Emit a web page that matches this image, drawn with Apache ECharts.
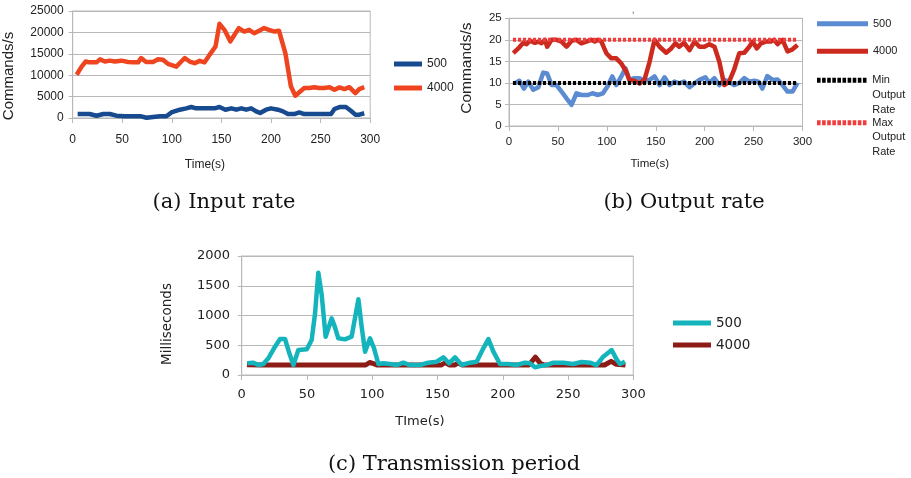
<!DOCTYPE html>
<html>
<head>
<meta charset="utf-8">
<title>Input rate / Output rate / Transmission period</title>
<script src="https://cdn.jsdelivr.net/npm/echarts@6/dist/echarts.min.js"></script>
<style>
html, body { margin: 0; padding: 0; background: #fff; }
#chart { width: 911px; height: 478px; }
</style>
</head>
<body>
<div id="chart"></div>
<script>
// [time (s), value]

// (a) input rate, commands/s
const inRate500 = [[5,930],[17,930],[24,540],[31,930],[37.5,930],[44,540],[52.5,390],[61,390],[69,390],[74.5,50],[81,230],[88,390],[94.5,390],[99.5,1300],[108,1940],[114.5,2250],[119.5,2560],[124.5,2250],[135,2250],[143,2250],[148,2560],[154,1940],[160,2250],[165,1940],[170,2250],[175,1940],[180,2250],[185,1550],[189,1160],[195,1940],[200,2250],[207,1940],[212,1550],[217,930],[223.5,930],[228.5,1300],[233.5,930],[245,930],[260.5,930],[264,2100],[269,2560],[275.5,2560],[280.5,1700],[285,780],[289,780],[294,1100]];
const inRate4000 = [[4,10100],[9,12000],[13,13200],[17,13000],[24,13000],[27.5,13700],[32.5,13200],[37.5,13400],[42.5,13200],[49,13400],[56,13100],[61,13000],[66,13000],[69,14000],[74,13100],[81,13100],[86,13700],[91,13600],[96,12650],[104.5,12000],[109.5,13200],[113,14000],[118,13200],[123,12800],[128,13350],[133,13000],[138,14750],[144,16700],[148,22000],[153,20600],[159,17900],[163,19400],[167.5,21000],[173,20200],[178,20600],[183,19800],[188,20400],[193,21000],[198,20600],[203.5,20200],[208,20400],[210,20200],[214.5,15100],[220,7400],[224.5,5200],[228.5,6000],[233.5,7000],[238.5,7000],[243.5,7200],[248.5,7000],[253.5,7000],[259,7200],[264,6600],[269,7150],[274,6750],[279,7200],[285,5800],[289,6750],[294,7200]];

// (b) output rate, commands/s
const outRate500 = [[6,9.9],[10.5,10.5],[15.3,8.7],[19.7,10.3],[24.8,8.4],[30,9],[35,12.4],[39,12.2],[43.5,9.5],[48.6,9.5],[53.7,8],[58.8,6.4],[63.9,4.9],[69,7.6],[74,7.2],[80.8,7.2],[85.3,7.6],[91,7.2],[96,7.6],[101,9.3],[105.6,11.5],[109.7,9.5],[114.8,11.5],[119,13.4],[123,10.7],[128,11.1],[133.5,11.1],[138.6,10.5],[143.7,10.7],[148.8,11.5],[154,9.5],[159,11.3],[164,9.5],[169,10.3],[174,9.9],[179,10.3],[184.5,9],[189.6,9.9],[194.7,10.7],[200.8,11.3],[204.8,10],[210,11.1],[215,9.5],[220,10.7],[225,10.3],[230,9.5],[235.4,10],[240.5,11.1],[245.6,10.3],[250.7,10.5],[255,10.3],[259,8.7],[264,11.6],[269.4,10.7],[274.5,10.8],[279.6,9.5],[284.7,8],[289.8,8],[294.9,10]];
const outRate4000 = [[4.4,16.9],[9.5,18],[14.6,19.3],[18,19],[21.4,19.8],[26.5,19.3],[30,19.6],[33.3,19.2],[36.7,20],[39,18.4],[43.5,20],[48.6,20],[53.7,19.6],[58.8,18.4],[63.9,19.8],[69,20],[74,19.2],[79,19.6],[84,20],[87.6,19.6],[91,20],[94.4,19.6],[99.5,16.9],[104.6,15.7],[109.7,15.7],[114.8,14.5],[120,12.6],[123,10.7],[128,10.5],[133.5,9.9],[138.6,10.8],[143.7,14.9],[148.8,20],[153.9,18.4],[160.7,17],[165.8,18],[170,19.2],[174,18.4],[179,19.3],[184.5,17.6],[189.6,19.6],[194.7,18.4],[199.7,18.4],[204.8,19],[210,18.4],[215,14.9],[220,9.5],[225,10.3],[230,13],[235.4,16.9],[240.5,17],[245.6,18.4],[249,19.6],[253.4,18],[257.5,19.2],[262.6,19.6],[267.7,19.6],[271,20],[274.5,19],[279.6,20],[284.7,17.3],[289.8,17.8],[294.9,18.8]];
const minOutRate = [[4,10],[295,10]];
const maxOutRate = [[4,20],[295,20]];

// (c) transmission period, ms
const period500 = [[4.3,196],[9,207],[12.8,168],[16.6,185],[20.4,280],[25.5,476],[29.4,605],[33.2,605],[36.5,364],[39.6,168],[43.4,420],[49.8,431],[53.6,588],[56.2,1036],[58.7,1720],[61.3,1344],[64.3,644],[68.9,952],[71.5,801],[74,616],[79.1,599],[84.2,644],[89.4,1272],[91.9,812],[94.5,392],[98.3,616],[101.4,448],[104.7,185],[108.5,196],[113.6,185],[118.7,168],[123.8,207],[128.9,168],[136.6,168],[143,207],[149.4,224],[154.5,297],[158.8,196],[163.4,297],[168.5,168],[174.9,207],[180,224],[185.1,448],[189,605],[192.8,392],[197.9,185],[204.2,185],[210.6,168],[217,207],[220.8,196],[224.7,129],[228.5,151],[233.6,168],[238.7,207],[246.4,207],[254,185],[260.4,218],[266.8,207],[271.9,168],[277,308],[283.4,420],[287.2,263],[289.8,185],[293.6,224]];
const period4000 = [[4,172],[15,168],[95,168],[98,210],[101,190],[104,168],[153,168],[156,210],[159,168],[163,168],[166,200],[169,168],[220,168],[225,300],[229,190],[232,168],[278,168],[283,230],[287,180],[294,168]];

const captions = ['(a) Input rate', '(b) Output rate', '(c) Transmission period'];

const SANS = "'Liberation Sans', Arial, sans-serif";
const WIDE = "'DejaVu Sans', sans-serif";
const SERIF = "'DejaVu Serif', serif";
const LINE_C = '#b8b8b8';
const TXT = '#222';
const plain = v => String(v);

function xAxisFor(gi, font, size, margin, gap, pad, name) {
  return {
    type: 'value', gridIndex: gi, min: 0, max: 300, interval: 50,
    axisLine: { show: true, lineStyle: { color: LINE_C } },
    axisTick: { show: true, length: 5, lineStyle: { color: LINE_C } },
    splitLine: { show: false },
    axisLabel: { margin: margin, color: TXT, fontFamily: font, fontSize: size, formatter: plain },
    name: name, nameLocation: 'middle', nameGap: gap,
    nameTextStyle: { color: TXT, fontFamily: font, fontSize: size, padding: pad }
  };
}
function yAxisFor(gi, max, step, font, size, margin, name, nameFont, nameSize, gap, pad) {
  return {
    type: 'value', gridIndex: gi, min: 0, max: max, interval: step,
    axisLine: { show: true, lineStyle: { color: LINE_C } },
    axisTick: { show: true, length: 4, lineStyle: { color: LINE_C } },
    splitLine: { show: true, lineStyle: { color: LINE_C } },
    axisLabel: { margin: margin, color: TXT, fontFamily: font, fontSize: size, formatter: plain },
    name: name, nameLocation: 'middle', nameGap: gap,
    nameTextStyle: { color: TXT, fontFamily: nameFont, fontSize: nameSize, padding: pad }
  };
}
function line(name, data, xi, color, width, dash, z) {
  return {
    name: name, type: 'line', xAxisIndex: xi, yAxisIndex: xi,
    data: data, symbol: 'none', showSymbol: false, z: z || 2,
    itemStyle: { color: color },
    lineStyle: { color: color, width: width, type: dash || 'solid', join: 'round' },
    emphasis: { disabled: true }
  };
}
// dotted legend icon
let dots = 'path://';
for (let i = 0; i < 10; i++) dots += 'M' + (i * 5.1) + ',0h3.6v5h-3.6z';

function smallLegend(top, name, icon, text) {
  return {
    left: 817, top: top, padding: 0, itemWidth: 51, itemHeight: 5, icon: icon, selectedMode: false,
    data: [name], formatter: text || '{name}',
    textStyle: { color: TXT, fontFamily: SANS, fontSize: 11, lineHeight: 14.7 }
  };
}

const chart = echarts.init(document.getElementById('chart'), null, { renderer: 'canvas' });
const option = {
  animation: false,
  grid: [
    { left: 72.7, top: 11, width: 297.5, height: 107, show: true, borderColor: LINE_C, borderWidth: 1 },
    { left: 509, top: 18.3, width: 293.5, height: 107.7, show: true, borderColor: LINE_C, borderWidth: 1 },
    { left: 241.7, top: 256, width: 391.6, height: 119, show: true, borderColor: LINE_C, borderWidth: 1 }
  ],
  xAxis: [
    xAxisFor(0, SANS, 12, 16, 41, [0, 33, 0, 0], 'Time(s)'),
    xAxisFor(1, SANS, 11.5, 10, 32, [0, 12, 0, 0], 'Time(s)'),
    xAxisFor(2, WIDE, 13, 13.5, 40, [0, 35, 0, 0], 'TIme(s)')
  ],
  yAxis: [
    yAxisFor(0, 25000, 5000, SANS, 12, 9, 'Commands/s', SANS, 15, 56, [0, 23, 0, 0]),
    yAxisFor(1, 25, 5, SANS, 11.5, 7.3, 'Commands/s', SANS, 15.5, 34, [0, 0, 0, 8]),
    yAxisFor(2, 2000, 500, WIDE, 13, 11.7, 'Milliseconds', WIDE, 13.5, 67, [0, 17, 0, 0])
  ],
  legend: [
    { left: 394, top: 57, orient: 'vertical', padding: 0, itemGap: 10, itemWidth: 28, itemHeight: 5, icon: 'rect',
      selectedMode: false, data: ['500', '4000'],
      textStyle: { color: TXT, fontFamily: SANS, fontSize: 12, lineHeight: 14 } },
    smallLegend(16.5, '500 ', 'rect', '500'),
    smallLegend(44, '4000 ', 'rect', '4000'),
    smallLegend(43.5, 'Min Output Rate', dots, ' \n \nMin\nOutput\nRate'),
    smallLegend(86, 'Max Output Rate', dots, ' \n \nMax\nOutput\nRate'),
    { left: 673, top: 315, orient: 'vertical', padding: 0, itemGap: 6, itemWidth: 38, itemHeight: 5, icon: 'rect',
      selectedMode: false, data: ['500  ', '4000  '], formatter: n => n.trim(),
      textStyle: { color: TXT, fontFamily: WIDE, fontSize: 13.5, lineHeight: 16 } }
  ],
  series: [
    line('500', inRate500, 0, '#174a8e', 4.5),
    line('4000', inRate4000, 0, '#ee4420', 4.5),
    line('500 ', outRate500, 1, '#5b8bd0', 4.5),
    line('4000 ', outRate4000, 1, '#cc2a1f', 4.5),
    line('Min Output Rate', minOutRate, 1, '#000000', 4, [3.2, 1.8], 3),
    line('Max Output Rate', maxOutRate, 1, '#f03c3c', 4, [3.2, 1.8], 3),
    line('4000  ', period4000, 2, '#8d1c16', 5),
    line('500  ', period500, 2, '#14b4bc', 4.5, null, 3)
  ],
  graphic: [
    // only the lower edge of the cropped chart title shows in the figure
    { type: 'text', x: 647, y: 7.5, z: 1,
      style: { text: 'Output Rate', font: '14px ' + SANS, fill: '#a0a0a0', align: 'center', verticalAlign: 'middle' } },
    { type: 'rect', z: 50, shape: { x: 600, y: 0, width: 95, height: 11.5 }, style: { fill: 'white' } },
    { type: 'text', x: 224, y: 203, style: { text: captions[0], font: '21px ' + SERIF, fill: '#111', align: 'center', verticalAlign: 'middle' } },
    { type: 'text', x: 684, y: 203, style: { text: captions[1], font: '21px ' + SERIF, fill: '#111', align: 'center', verticalAlign: 'middle' } },
    { type: 'text', x: 454, y: 465, style: { text: captions[2], font: '21px ' + SERIF, fill: '#111', align: 'center', verticalAlign: 'middle' } }
  ]
};
chart.setOption(option);
</script>
</body>
</html>
